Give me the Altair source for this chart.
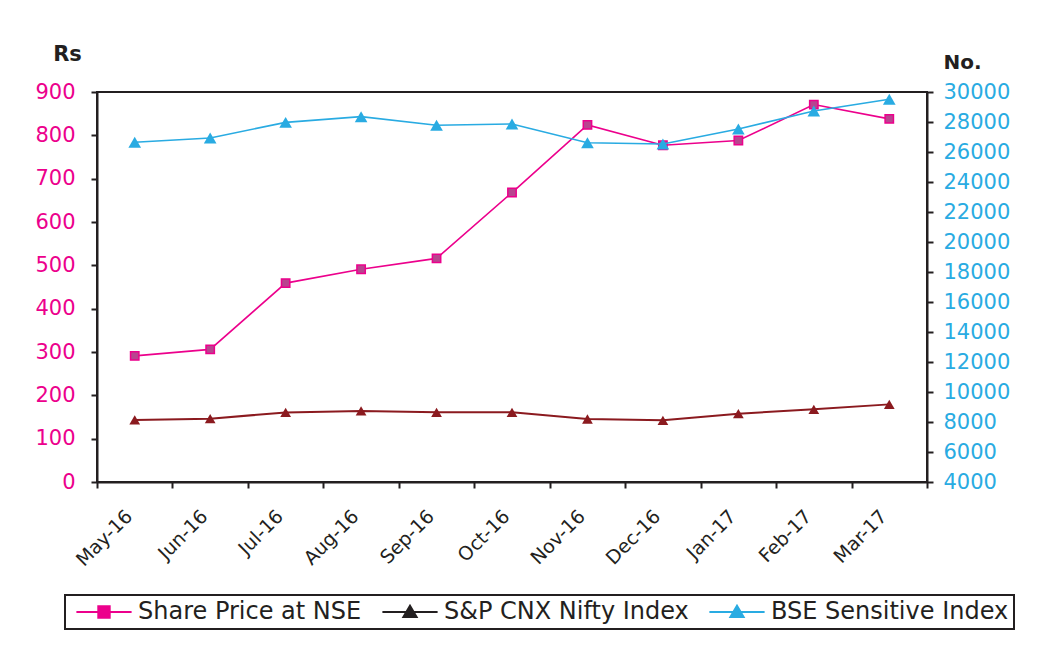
import altair as alt
import pandas as pd

months = ["May-16", "Jun-16", "Jul-16", "Aug-16", "Sep-16", "Oct-16",
          "Nov-16", "Dec-16", "Jan-17", "Feb-17", "Mar-17"]
share_price = [291, 306, 459, 491, 516, 668, 824, 777, 788, 871, 838]
nifty = [8135, 8220, 8640, 8735, 8645, 8645, 8200, 8110, 8555, 8845, 9175]
bse = [26650, 26935, 27975, 28355, 27780, 27865, 26620, 26535, 27535, 28735, 29515]
series_names = ["Share Price at NSE", "S&P CNX Nifty Index", "BSE Sensitive Index"]
left_ticks = list(range(0, 901, 100))
right_ticks = list(range(4000, 30001, 2000))

df = pd.DataFrame({"month": months, "share": share_price, "nifty": nifty, "bse": bse})

FONT = "DejaVu Sans"
DARK = "#231F20"
PINK = "#EC008C"
BLUE = "#29ABE2"
RED = "#8B1A1F"

base = alt.Chart(df)

x_enc = alt.X(
    "month:N", sort=months, bandPosition=0.5,
    scale=alt.Scale(type="band", paddingInner=0, paddingOuter=0),
    axis=alt.Axis(title=None, tickBand="extent", labelAngle=315, labelAlign="right",
                  labelBaseline="middle", labelFont=FONT, labelFontSize=19,
                  labelColor=DARK, labelPadding=25, labelOffset=-6,
                  tickSize=6, tickWidth=2, tickColor=DARK,
                  domainColor=DARK, domainWidth=2),
)

y_left = alt.Y(
    "share:Q",
    scale=alt.Scale(domain=[0, 900], nice=False, zero=False),
    axis=alt.Axis(orient="left", values=left_ticks, title="Rs", titleAngle=0,
                  titleX=-30, titleY=-32, titleAlign="center", titleBaseline="alphabetic",
                  titleFont=FONT, titleFontSize=21, titleFontWeight="bold", titleColor=DARK,
                  labelFont=FONT, labelFontSize=21, labelColor=PINK, labelPadding=16,
                  tickSize=6, tickWidth=2, tickColor=DARK, domainColor=DARK, domainWidth=2,
                  grid=False),
)

right_axis = alt.Axis(orient="right", values=right_ticks, format="d", title="No.", titleAngle=0,
                      titleX=35, titleY=-24, titleAlign="center", titleBaseline="alphabetic",
                      titleFont=FONT, titleFontSize=20, titleFontWeight="bold", titleColor=DARK,
                      labelFont=FONT, labelFontSize=21, labelColor=BLUE, labelPadding=10,
                      tickSize=6, tickWidth=2, tickColor=DARK, domainColor=DARK, domainWidth=2,
                      grid=False)
right_scale = alt.Scale(domain=[4000, 30000], nice=False, zero=False)

share_line = base.mark_line(color=PINK, strokeWidth=1.6).encode(x=x_enc, y=y_left)
share_pts = base.mark_point(shape="square", filled=True, fill="#B8448F", stroke=PINK,
                            strokeWidth=1.5, size=70, opacity=1).encode(x=x_enc, y=y_left)
left_group = alt.layer(share_line, share_pts)

y_nifty = alt.Y("nifty:Q", scale=right_scale, axis=right_axis)
y_bse = alt.Y("bse:Q", scale=right_scale, axis=right_axis)

nifty_line = base.mark_line(color=RED, strokeWidth=2).encode(x=x_enc, y=y_nifty)
nifty_pts = base.mark_point(shape="triangle-up", filled=True, color=RED, size=115,
                            opacity=1).encode(x=x_enc, y=y_nifty)
bse_line = base.mark_line(color=BLUE, strokeWidth=1.6).encode(x=x_enc, y=y_bse)
bse_pts = base.mark_point(shape="triangle-up", filled=True, color=BLUE, size=160,
                          opacity=1).encode(x=x_enc, y=y_bse)
right_group = alt.layer(nifty_line, nifty_pts, bse_line, bse_pts)

sq_path = "M-4.6,0H4.6M-0.95,-0.95H0.95V0.95H-0.95Z"
tri_path = "M-4.6,0H4.6M0,-1.05L1.1,0.85H-1.1Z"

legend_df = pd.DataFrame({"series": series_names})
legend_layer = alt.Chart(legend_df).mark_point(filled=True, opacity=1).encode(
    shape=alt.Shape("series:N", scale=alt.Scale(domain=series_names,
                                                range=[sq_path, tri_path, tri_path]),
                    legend=alt.Legend(title=None)),
    fill=alt.Fill("series:N", scale=alt.Scale(domain=series_names,
                                              range=[PINK, DARK, BLUE]),
                  legend=alt.Legend(title=None)),
    stroke=alt.Stroke("series:N", scale=alt.Scale(domain=series_names,
                                                  range=[PINK, DARK, BLUE]),
                      legend=alt.Legend(title=None)),
).transform_filter("false")

chart = alt.layer(left_group, right_group, legend_layer).resolve_scale(
    y="independent"
).properties(
    width=830, height=390,
    autosize=alt.AutoSizeParams(type="none"),
    padding={"left": 89, "top": 84, "right": 115, "bottom": 166},
).configure_view(
    stroke=DARK, strokeWidth=2
).configure_legend(
    orient="none", legendX=-32, legendY=503, direction="horizontal", columns=3,
    labelFont=FONT, labelFontSize=24, labelColor=DARK, labelLimit=500,
    symbolSize=144, symbolStrokeWidth=2, symbolOffset=22, labelOffset=22,
    strokeColor=DARK, strokeWidth=2, padding=5, columnPadding=14,
)

chart.save("out.html", embed_options={"renderer": "svg", "actions": False})
